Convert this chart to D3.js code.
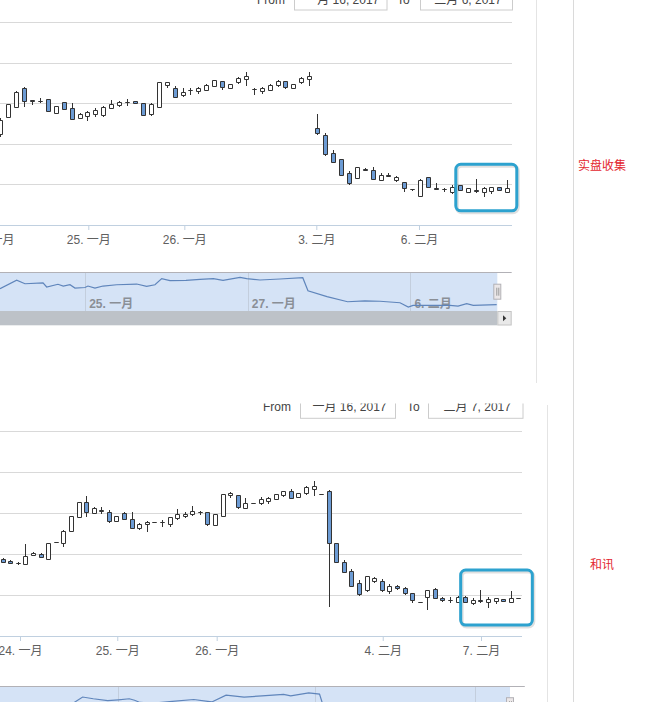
<!DOCTYPE html>
<html>
<head>
<meta charset="utf-8">
<script src="https://cdn.jsdelivr.net/npm/d3@7"></script>
<style>
body { margin: 0; background: #fff; }
svg { display: block; }
</style>
</head>
<body>
<div id="container"></div>
<script>
var width = 647, height = 702;
var FONT = '"Liberation Sans", "Noto Sans CJK SC", sans-serif';
var downColor = '#6c9bd4', lineColor = '#333';

// price levels of the horizontal grid (same for both charts)
var priceGrid = [300, 312, 324, 336, 348, 360];

// ---- chart 1: 实盘收集 ----
var topOpen = [326.7, 331.9, 334.9, 340.5, 336.8, 336.6, 337.1, 333.1, 336.4, 334.6, 331.6, 332.3, 332.8, 332.4, 334.6, 335.5, 336.4, 336.6, 336.1, 332.9,
	334.9, 341.4, 340.5, 338.3, 340.0, 339.5, 339.8, 341.2, 342.5, 340.5, 342.2, 343.2, 340.1, 339.6, 339.8, 341.3, 342.5, 340.5, 342.2, 343.1,
	328.7, 326.5, 321.2, 319.3, 315.3, 313.8, 316.6, 316.1, 313.3, 314.8, 313.1, 312.5, 310.4, 308.6, 314.0, 310.9, 310.4, 309.6, 311.6, 309.7,
	310.1, 309.7, 309.9, 311.1, 309.7];
var topHigh = [331.6, 335.9, 339.8, 340.8, 337.1, 337.8, 337.3, 335.3, 336.6, 336.1, 333.1, 333.9, 334.6, 335.3, 337.1, 336.7, 337.5, 336.9, 336.3, 336.1,
	342.5, 342.5, 341.2, 340.5, 340.5, 340.8, 341.7, 343.0, 342.7, 341.9, 343.8, 345.5, 340.6, 340.9, 341.7, 343.0, 342.8, 341.9, 343.8, 345.5,
	332.9, 327.2, 322.2, 319.5, 316.1, 317.2, 316.9, 317.3, 315.3, 315.3, 314.6, 312.7, 310.5, 313.5, 314.3, 312.4, 311.1, 311.9, 311.8, 310.9,
	313.5, 311.4, 311.4, 311.3, 313.3];
var topLow = [326.2, 331.6, 334.6, 334.9, 335.6, 336.1, 333.4, 332.9, 334.1, 331.1, 331.4, 330.9, 332.1, 331.9, 334.3, 334.9, 335.3, 335.8, 332.3, 332.3,
	334.7, 340.5, 337.6, 338.0, 338.7, 339.0, 339.6, 340.8, 340.0, 340.3, 341.8, 341.2, 338.7, 339.0, 339.6, 340.8, 340.2, 340.3, 341.8, 341.2,
	326.7, 320.6, 318.4, 314.4, 311.9, 313.6, 316.1, 313.3, 313.1, 314.2, 312.9, 309.9, 310.2, 308.4, 311.0, 310.4, 309.7, 309.2, 310.0, 309.4,
	309.4, 308.4, 309.2, 310.0, 309.6];
var topClose = [331.1, 335.6, 339.3, 336.6, 336.5, 336.6, 333.8, 335.1, 334.3, 331.4, 332.9, 333.5, 334.1, 334.9, 335.8, 336.3, 336.4, 336.1, 332.6, 335.7,
	342.2, 342.2, 337.8, 339.2, 340.0, 340.5, 341.5, 342.8, 340.7, 341.7, 343.5, 344.0, 340.1, 340.5, 341.5, 342.6, 340.8, 341.7, 343.5, 344.0,
	327.0, 320.8, 318.6, 314.6, 312.4, 317.0, 316.2, 313.5, 314.6, 314.3, 314.0, 310.7, 310.4, 313.3, 311.2, 310.5, 310.4, 311.1, 310.2, 310.7,
	309.8, 310.7, 311.2, 310.2, 310.9];
var topTickPos = [-1.05, 11.11, 23.23, 39.89, 52.85];
var topTickLabels = ['24. 一月', '25. 一月', '26. 一月', '3. 二月', '6. 二月'];
var topMarkIdx = [57.5, 65.2], topMarkPrice = [304.2, 318.0];
var topNavT = [-0.054, 0.151, 0.253, 0.475, 0.520, 0.659, 0.724, 0.807, 0.868, 0.991, 1.028, 1.114, 1.213, 1.381, 1.627, 1.750, 1.852, 1.935, 2.037, 2.234,
	2.406, 2.570, 2.689, 2.898, 2.980, 3.144, 3.390, 3.670, 3.734, 3.968, 4.221, 4.433, 4.620, 4.866, 4.968, 5.026, 5.481, 5.580, 5.686, 5.767, 6.055];
var topNavV = [329.1, 340.1, 335.6, 336.6, 331.3, 334.9, 332.6, 334.3, 330.0, 330.7, 332.6, 330.0, 332.6, 334.3, 335.2, 332.2, 334.3, 342.2, 339.6, 340.1,
	341.4, 342.2, 340.1, 344.0, 342.2, 340.5, 341.8, 343.5, 326.5, 318.7, 312.1, 313.1, 312.7, 310.8, 305.2, 307.4, 307.4, 306.5, 309.5, 307.4, 308.2];
var topNavTicks = [1, 3, 5];
var topNavLabels = ['25. 一月', '27. 一月', '6. 二月'];
var topRange = ['一月 16, 2017', '二月 6, 2017'];

// ---- chart 2: 和讯 ----
var botOpen = [322.7, 322.1, 321.5, 321.2, 323.7, 324.2, 322.6, 327.5, 327.3, 330.9, 334.8, 339.3, 336.1, 336.7, 336.4, 333.7, 336.1, 334.3, 331.7, 332.7,
	333.5, 333.4, 332.9, 334.6, 335.1, 335.9, 336.4, 336.4, 332.5, 335.1, 341.3, 341.4, 337.6, 339.0, 339.0, 339.7, 340.3, 341.4, 342.4, 340.8,
	341.8, 343.2, 341.7, 342.4, 327.3, 321.8, 319.0, 315.6, 313.4, 316.1, 316.1, 313.2, 314.8, 314.1, 312.5, 310.0, 311.5, 313.7, 311.2, 310.7,
	310.1, 311.5, 309.8, 310.7, 310.0, 310.2, 310.9, 310.0, 311.2];
var botHigh = [322.9, 322.4, 322.0, 327.1, 324.7, 324.4, 327.5, 327.6, 331.1, 335.3, 339.5, 341.2, 338.0, 337.9, 337.1, 335.3, 336.6, 336.6, 333.2, 334.0,
	333.6, 334.3, 335.0, 337.3, 336.4, 338.2, 336.9, 336.6, 336.0, 341.7, 342.4, 341.6, 340.5, 339.1, 340.8, 341.0, 341.9, 342.7, 343.1, 342.1,
	344.1, 345.7, 341.8, 342.9, 327.5, 322.4, 319.7, 316.6, 317.8, 317.4, 316.8, 315.4, 315.0, 314.6, 312.7, 310.1, 313.7, 314.4, 311.7, 311.5,
	312.0, 312.0, 311.2, 313.7, 311.7, 311.4, 311.1, 313.3, 311.3];
var botLow = [321.5, 321.4, 321.0, 321.0, 323.5, 322.9, 322.4, 327.4, 326.3, 330.7, 334.6, 335.1, 335.8, 335.9, 333.2, 333.5, 334.1, 331.5, 331.2, 330.7,
	333.4, 332.0, 332.0, 334.1, 334.6, 335.3, 335.6, 332.5, 332.3, 334.9, 340.5, 337.4, 337.4, 338.9, 338.5, 338.8, 340.1, 341.0, 340.2, 340.5,
	341.6, 341.2, 341.6, 308.6, 321.6, 318.5, 314.6, 312.0, 313.2, 315.6, 313.2, 312.5, 313.8, 312.3, 310.0, 309.9, 307.8, 311.0, 310.2, 310.0,
	309.8, 309.9, 309.3, 310.0, 308.3, 309.6, 310.1, 309.9, 311.1];
var botClose = [321.7, 321.5, 321.4, 323.4, 324.4, 323.1, 327.3, 327.5, 330.9, 335.1, 339.3, 336.3, 337.4, 336.9, 333.7, 335.1, 334.3, 331.7, 332.9, 333.5,
	333.5, 333.4, 334.8, 335.8, 335.9, 336.6, 336.4, 332.7, 335.8, 341.5, 341.9, 337.9, 339.0, 339.0, 340.2, 340.5, 341.7, 342.4, 340.5, 341.8,
	343.6, 344.1, 341.7, 327.3, 321.8, 318.7, 314.8, 312.4, 317.6, 317.1, 313.4, 314.8, 314.0, 312.5, 310.5, 310.0, 313.5, 311.2, 310.5, 310.7,
	311.4, 310.0, 310.7, 310.2, 310.9, 311.2, 310.3, 311.2, 311.2];
var botTickPos = [2.28, 15.11, 28.22, 50.12, 63.08];
var botTickLabels = ['24. 一月', '25. 一月', '26. 一月', '4. 二月', '7. 二月'];
var botMarkIdx = [60.4, 69.85], botMarkPrice = [303.4, 319.5];
var botNavT = [0.387, 0.547, 0.682, 0.865, 1.0, 1.137, 1.205, 1.273, 1.454, 1.682, 1.954, 2.182, 2.363, 2.591, 2.818, 3.091, 3.181, 3.409, 3.546, 3.590,
	3.75, 4.5, 6.12];
var botNavV = [326.1, 336.4, 334.2, 331.9, 332.9, 334.2, 332.4, 329.6, 328.8, 331.0, 333.3, 330.2, 338.7, 336.4, 337.8, 339.6, 337.8, 341.5, 340.1, 326.1,
	318.0, 312.0, 310.0];
var botNavTicks = [1, 3.5, 5.52];
var botRange = ['一月 16, 2017', '二月 7, 2017'];

var sideLabels = ['实盘收集', '和讯'];

var translate = function (x, y) {
	return "translate(" + x + "," + y + ")";
};
var crisp = function (v) { return Math.round(v - 0.5) + 0.5; };

function drawCandles(g, s, L) {
	var n = s.open.length;
	var x = d3.scaleLinear().domain([0, n - 1]).range([L.x0, L.x1]);
	var y = d3.scaleLinear().domain([priceGrid[0], priceGrid[priceGrid.length - 1]]).range([L.axisY, L.gridTop]);

	g.append('g').selectAll('line').data(priceGrid.slice(1)).enter()
		.append('line')
		.attr('x1', 0).attr('x2', L.right)
		.attr('y1', function(v){return crisp(y(v))})
		.attr('y2', function(v){return crisp(y(v))})
		.attr('stroke', '#d9d9d9');

	g.append('line')
		.attr('x1', 0).attr('x2', L.right)
		.attr('y1', crisp(L.axisY)).attr('y2', crisp(L.axisY))
		.attr('stroke', '#c0d0e0');

	var _xAxis = d3.axisBottom(x).tickValues(s.tickPos)
		.tickFormat(function(d, i){return s.tickLabels[i]})
		.tickSize(5).tickPadding(5);
	var ax = g.append('g').attr('transform', translate(0, crisp(L.axisY) - 0.5)).call(_xAxis);
	ax.select('.domain').remove();
	ax.attr('font-family', FONT).attr('font-size', 12);
	ax.selectAll('line').attr('stroke', '#c0d0e0');
	ax.selectAll('text').attr('fill', '#606060');

	var idx = d3.range(n);
	var cx = function(i){ return Math.round(x(i)) + 0.5; };
	g.append('g').selectAll('line').data(idx).enter()
		.append('line')
		.attr('x1', cx).attr('x2', cx)
		.attr('y1', function(i){return Math.round(y(s.high[i]))})
		.attr('y2', function(i){return Math.round(y(s.low[i]))})
		.attr('stroke', lineColor);
	g.append('g').selectAll('path').data(idx).enter()
		.append('path')
		.attr('d', function(i){
			var t = crisp(y(Math.max(s.open[i], s.close[i])));
			var b = crisp(y(Math.min(s.open[i], s.close[i])));
			var l = cx(i) - 2, r = cx(i) + 2;
			return 'M' + l + ',' + t + 'H' + r + 'V' + b + 'H' + l + 'Z';
		})
		.attr('fill', function(i){return s.close[i] < s.open[i] ? downColor : '#fff'})
		.attr('stroke', lineColor);

	// hand-drawn highlight box
	var bx = x(s.markIdx[0]), bw = x(s.markIdx[1]) - bx;
	var by = y(s.markPrice[1]), bh = y(s.markPrice[0]) - by;
	g.append('rect')
		.attr('x', bx + 1).attr('y', by + 1.5).attr('width', bw).attr('height', bh)
		.attr('rx', 5).attr('fill', 'none')
		.attr('stroke', 'rgba(0,0,0,0.12)').attr('stroke-width', 4);
	g.append('rect')
		.attr('x', bx).attr('y', by).attr('width', bw).attr('height', bh)
		.attr('rx', 5).attr('fill', 'none')
		.attr('stroke', '#2da2cf').attr('stroke-width', 3);
}

function drawNavigator(g, s, N) {
	var x = d3.scaleLinear().domain([s.navTicks[0], s.navTicks[1]]).range([N.t0, N.t1]);
	var y = d3.scaleLinear().domain([300, 350]).range([N.bottom, N.top]);

	g.append('rect')
		.attr('x', 0).attr('y', N.top).attr('width', N.right).attr('height', N.bottom - N.top)
		.attr('fill', '#d5e3f6');
	g.append('g').selectAll('line').data(s.navTicks).enter()
		.append('line')
		.attr('x1', function(t){return crisp(x(t))}).attr('x2', function(t){return crisp(x(t))})
		.attr('y1', N.top).attr('y2', N.bottom)
		.attr('stroke', '#c3cedd');
	if (s.navLabels) {
		g.append('g').selectAll('text').data(s.navTicks).enter()
			.append('text')
			.attr('x', function(t){return x(t) + 3.5})
			.attr('y', N.top + 35.5)
			.attr('font-family', FONT).attr('font-size', 12).attr('font-weight', 'bold')
			.attr('fill', '#8a8f96')
			.text(function(t, i){return s.navLabels[i]});
	}
	var navLine = d3.line()
		.x(function(t){return x(t)})
		.y(function(t, i){return y(s.navV[i])});
	g.append('path')
		.attr('d', navLine(s.navT))
		.attr('fill', 'none').attr('stroke', '#5f85bb').attr('stroke-width', 1.2);

	g.append('line')
		.attr('x1', 0).attr('x2', N.lineRight)
		.attr('y1', crisp(N.top)).attr('y2', crisp(N.top))
		.attr('stroke', '#b2b1b6');

	// right handle
	g.append('rect')
		.attr('x', N.right - 3.5).attr('y', N.top + 11.5).attr('width', 7).attr('height', 15)
		.attr('fill', '#ebe7e8').attr('stroke', '#b2b1b6');
	[-1, 1].forEach(function(o){
		g.append('line')
			.attr('x1', N.right + o + 0.5).attr('x2', N.right + o + 0.5)
			.attr('y1', N.top + 15).attr('y2', N.top + 23)
			.attr('stroke', '#999');
	});

	// scrollbar
	g.append('rect')
		.attr('x', 0).attr('y', N.bottom).attr('width', N.right).attr('height', 14.3)
		.attr('fill', '#bdc2c8');
	g.append('rect')
		.attr('x', N.right + 0.5).attr('y', N.bottom + 0.5).attr('width', N.lineRight - N.right - 1).attr('height', 13.5)
		.attr('fill', '#e9e9e9').attr('stroke', '#c4c4c4');
	var ax = (N.right + N.lineRight) / 2, ay = N.bottom + 7.3;
	g.append('path')
		.attr('d', 'M' + (ax - 1.5) + ',' + (ay - 3) + 'L' + (ax + 1.8) + ',' + ay + 'L' + (ax - 1.5) + ',' + (ay + 3) + 'Z')
		.attr('fill', '#333');
}

function drawRange(g, r, R) {
	g.attr('font-family', FONT).attr('font-size', 12).attr('fill', '#444');
	g.append('text').attr('x', R.fromX).attr('y', R.base).text('From');
	g.append('text').attr('x', R.toX).attr('y', R.base).text('To');
	R.boxes.forEach(function(b, i){
		g.append('rect')
			.attr('x', b[0] + 0.5).attr('y', R.base - 20).attr('width', b[1] - b[0]).attr('height', R.boxBottom - R.base + 20)
			.attr('fill', 'none').attr('stroke', '#cccccc');
		g.append('text')
			.attr('x', (b[0] + b[1]) / 2 + 2).attr('y', R.base)
			.attr('text-anchor', 'middle')
			.text(r[i]);
	});
}

function visualize() {
	var svg = d3.select('#container')
		.append('svg')
		.attr('width', width)
		.attr('height', height);

	svg.append('rect').attr('width', width).attr('height', height).attr('fill', '#fff');

	var top = {open: topOpen, high: topHigh, low: topLow, close: topClose,
		tickPos: topTickPos, tickLabels: topTickLabels, markIdx: topMarkIdx, markPrice: topMarkPrice,
		navT: topNavT, navV: topNavV, navTicks: topNavTicks, navLabels: topNavLabels};
	var bot = {open: botOpen, high: botHigh, low: botLow, close: botClose,
		tickPos: botTickPos, tickLabels: botTickLabels, markIdx: botMarkIdx, markPrice: botMarkPrice,
		navT: botNavT, navV: botNavV, navTicks: botNavTicks};

	// upper screenshot
	var g1 = svg.append('g');
	drawRange(g1.append('g'), topRange, {fromX: 257, toX: 397, base: 3.5, boxBottom: 10, boxes: [[294, 386.5], [420, 512]]});
	drawCandles(g1, top, {x0: 0.3, x1: 507.3, right: 512, gridTop: 22.7, axisY: 225});
	drawNavigator(g1, top, {t0: 85.7, t1: 248.3, top: 272.7, bottom: 311, right: 497.3, lineRight: 511.7});

	// lower screenshot, cut at its top edge
	svg.append('clipPath').attr('id', 'lowerClip')
		.append('rect').attr('x', 0).attr('y', 403.5).attr('width', width).attr('height', height - 403.5);
	var g2 = svg.append('g').attr('clip-path', 'url(#lowerClip)');
	drawRange(g2.append('g'), botRange, {fromX: 263, toX: 407, base: 410.5, boxBottom: 418.3, boxes: [[300, 395], [428, 522.5]]});
	drawCandles(g2, bot, {x0: 2.7, x1: 518.3, right: 522, gridTop: 431.7, axisY: 636.7});
	drawNavigator(g2, bot, {t0: 118.4, t1: 315.9, top: 686.2, bottom: 726, right: 510, lineRight: 524.8});

	// page frame lines
	svg.append('line').attr('x1', 536.5).attr('x2', 536.5).attr('y1', 0).attr('y2', 383).attr('stroke', '#e4e4e4');
	svg.append('line').attr('x1', 547.5).attr('x2', 547.5).attr('y1', 405).attr('y2', height).attr('stroke', '#e4e4e4');
	svg.append('line').attr('x1', 573.5).attr('x2', 573.5).attr('y1', 0).attr('y2', height).attr('stroke', '#dadada');

	svg.selectAll('text.side').data(sideLabels).enter()
		.append('text')
		.attr('x', 602).attr('y', function(d, i){return i ? 568.5 : 169.5})
		.attr('text-anchor', 'middle')
		.attr('font-family', '"Noto Sans CJK SC", sans-serif').attr('font-size', 12)
		.attr('fill', '#e3262e')
		.text(function(d){return d});
}

window.onload = visualize;
</script>
</body>
</html>
